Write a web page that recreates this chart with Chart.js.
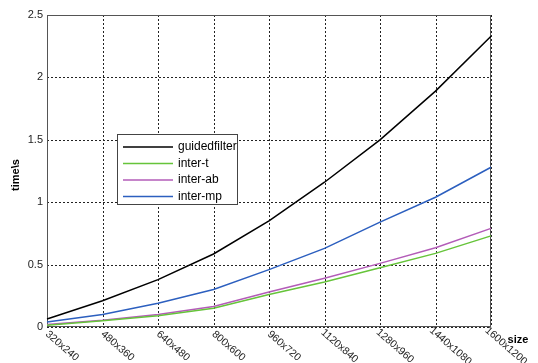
<!DOCTYPE html>
<html>
<head>
<meta charset="utf-8">
<script src="https://cdn.jsdelivr.net/npm/chart.js@4"></script>
<style>
  html, body { margin: 0; padding: 0; background: #fff; }
  #wrap { width: 538px; height: 363px; }
</style>
</head>
<body>
<div id="wrap"><canvas id="my-chart" width="538" height="363"></canvas></div>
<script>
const sizes = ['320x240', '480x360', '640x480', '800x600', '960x720', '1120x840', '1280x960', '1440x1080', '1600x1200'];
const guidedfilter = [0.064, 0.21, 0.38, 0.585, 0.85, 1.16, 1.5, 1.89, 2.33];
const interT = [0.015, 0.05, 0.09, 0.15, 0.26, 0.36, 0.475, 0.59, 0.73];
const interAb = [0.02, 0.055, 0.10, 0.165, 0.28, 0.39, 0.51, 0.635, 0.79];
const interMp = [0.04, 0.10, 0.19, 0.30, 0.46, 0.63, 0.84, 1.04, 1.28];
const yTicks = [0, 0.5, 1, 1.5, 2, 2.5];

const font = '"Liberation Sans", Arial, sans-serif';

// dotted grid + box frame, drawn under the lines
const frame = {
  id: 'frame',
  beforeDatasetsDraw(chart) {
    const c = chart.ctx, a = chart.chartArea;
    const xs = chart.scales.x, ys = chart.scales.y;
    c.save();
    c.strokeStyle = '#222';
    c.lineWidth = 1;
    c.setLineDash([2, 2]);
    c.beginPath();
    sizes.forEach((s, i) => {
      const px = Math.round(xs.getPixelForValue(i)) + 0.5;
      c.moveTo(px, a.top);
      c.lineTo(px, a.bottom);
    });
    yTicks.forEach(v => {
      const py = Math.round(ys.getPixelForValue(v)) + 0.5;
      c.moveTo(a.left, py);
      c.lineTo(a.right, py);
    });
    c.stroke();
    c.setLineDash([]);
    c.strokeStyle = '#555';
    c.strokeRect(a.left + 0.5, a.top + 0.5, a.right - a.left - 1, a.bottom - a.top - 1);
    c.restore();
  }
};

// legend box, axis titles and slanted x labels
const extras = {
  id: 'extras',
  afterDraw(chart) {
    const ctx = chart.ctx;
    const area = chart.chartArea;
    const xs = chart.scales.x;
    ctx.save();

    ctx.font = '10.5px ' + font;
    ctx.fillStyle = '#222';
    ctx.textAlign = 'center';
    ctx.textBaseline = 'middle';
    sizes.forEach((s, i) => {
      const px = xs.getPixelForValue(i);
      ctx.save();
      ctx.translate(px + 15, area.bottom + 19);
      ctx.rotate(41 * Math.PI / 180);
      ctx.fillText(s, 0, 0);
      ctx.restore();
    });

    ctx.font = 'bold 11px ' + font;
    ctx.fillStyle = '#000';
    ctx.textAlign = 'center';
    ctx.fillText('size', 518, 340);
    ctx.save();
    ctx.translate(16, 175);
    ctx.rotate(-Math.PI / 2);
    ctx.fillText('time\\s', 0, 0);
    ctx.restore();

    const lx = 117, ly = 134, lw = 120, lh = 70;
    ctx.fillStyle = '#fff';
    ctx.fillRect(lx, ly, lw, lh);
    ctx.strokeStyle = '#444';
    ctx.lineWidth = 1;
    ctx.strokeRect(lx + 0.5, ly + 0.5, lw, lh);
    ctx.font = '12px ' + font;
    ctx.textAlign = 'left';
    chart.data.datasets.forEach((ds, i) => {
      const y = ly + 13 + i * 16.5;
      ctx.strokeStyle = ds.borderColor;
      ctx.lineWidth = 1.5;
      ctx.beginPath();
      ctx.moveTo(lx + 6, y);
      ctx.lineTo(lx + 56, y);
      ctx.stroke();
      ctx.fillStyle = '#000';
      ctx.fillText(ds.label, lx + 61, y);
    });
    ctx.restore();
  }
};

const ctx = document.getElementById('my-chart').getContext('2d');
const chart = new Chart(ctx, {
  type: 'line',
  data: {
    labels: sizes,
    datasets: [
      { label: 'guidedfilter', data: guidedfilter, borderColor: '#000000' },
      { label: 'inter-t', data: interT, borderColor: '#66c43a' },
      { label: 'inter-ab', data: interAb, borderColor: '#b35cb8' },
      { label: 'inter-mp', data: interMp, borderColor: '#2c5fbf' }
    ]
  },
  options: {
    responsive: false,
    animation: false,
    elements: {
      point: { radius: 0 },
      line: { borderWidth: 1.5, tension: 0 }
    },
    layout: { padding: { top: 15, right: 47, left: 0, bottom: 0 } },
    plugins: {
      legend: { display: false },
      tooltip: { enabled: false }
    },
    scales: {
      x: {
        offset: false,
        afterFit: s => { s.height = 36; },
        ticks: { display: false },
        grid: { display: false, drawTicks: false },
        border: { display: false }
      },
      y: {
        min: 0,
        max: 2.5,
        afterFit: s => { s.width = 47; },
        afterBuildTicks: s => { s.ticks = yTicks.map(v => ({ value: v })); },
        ticks: {
          color: '#222',
          font: { family: font, size: 11 },
          padding: 4,
          callback: v => String(v)
        },
        grid: { display: false, drawTicks: false },
        border: { display: false }
      }
    }
  },
  plugins: [frame, extras]
});
</script>
</body>
</html>
